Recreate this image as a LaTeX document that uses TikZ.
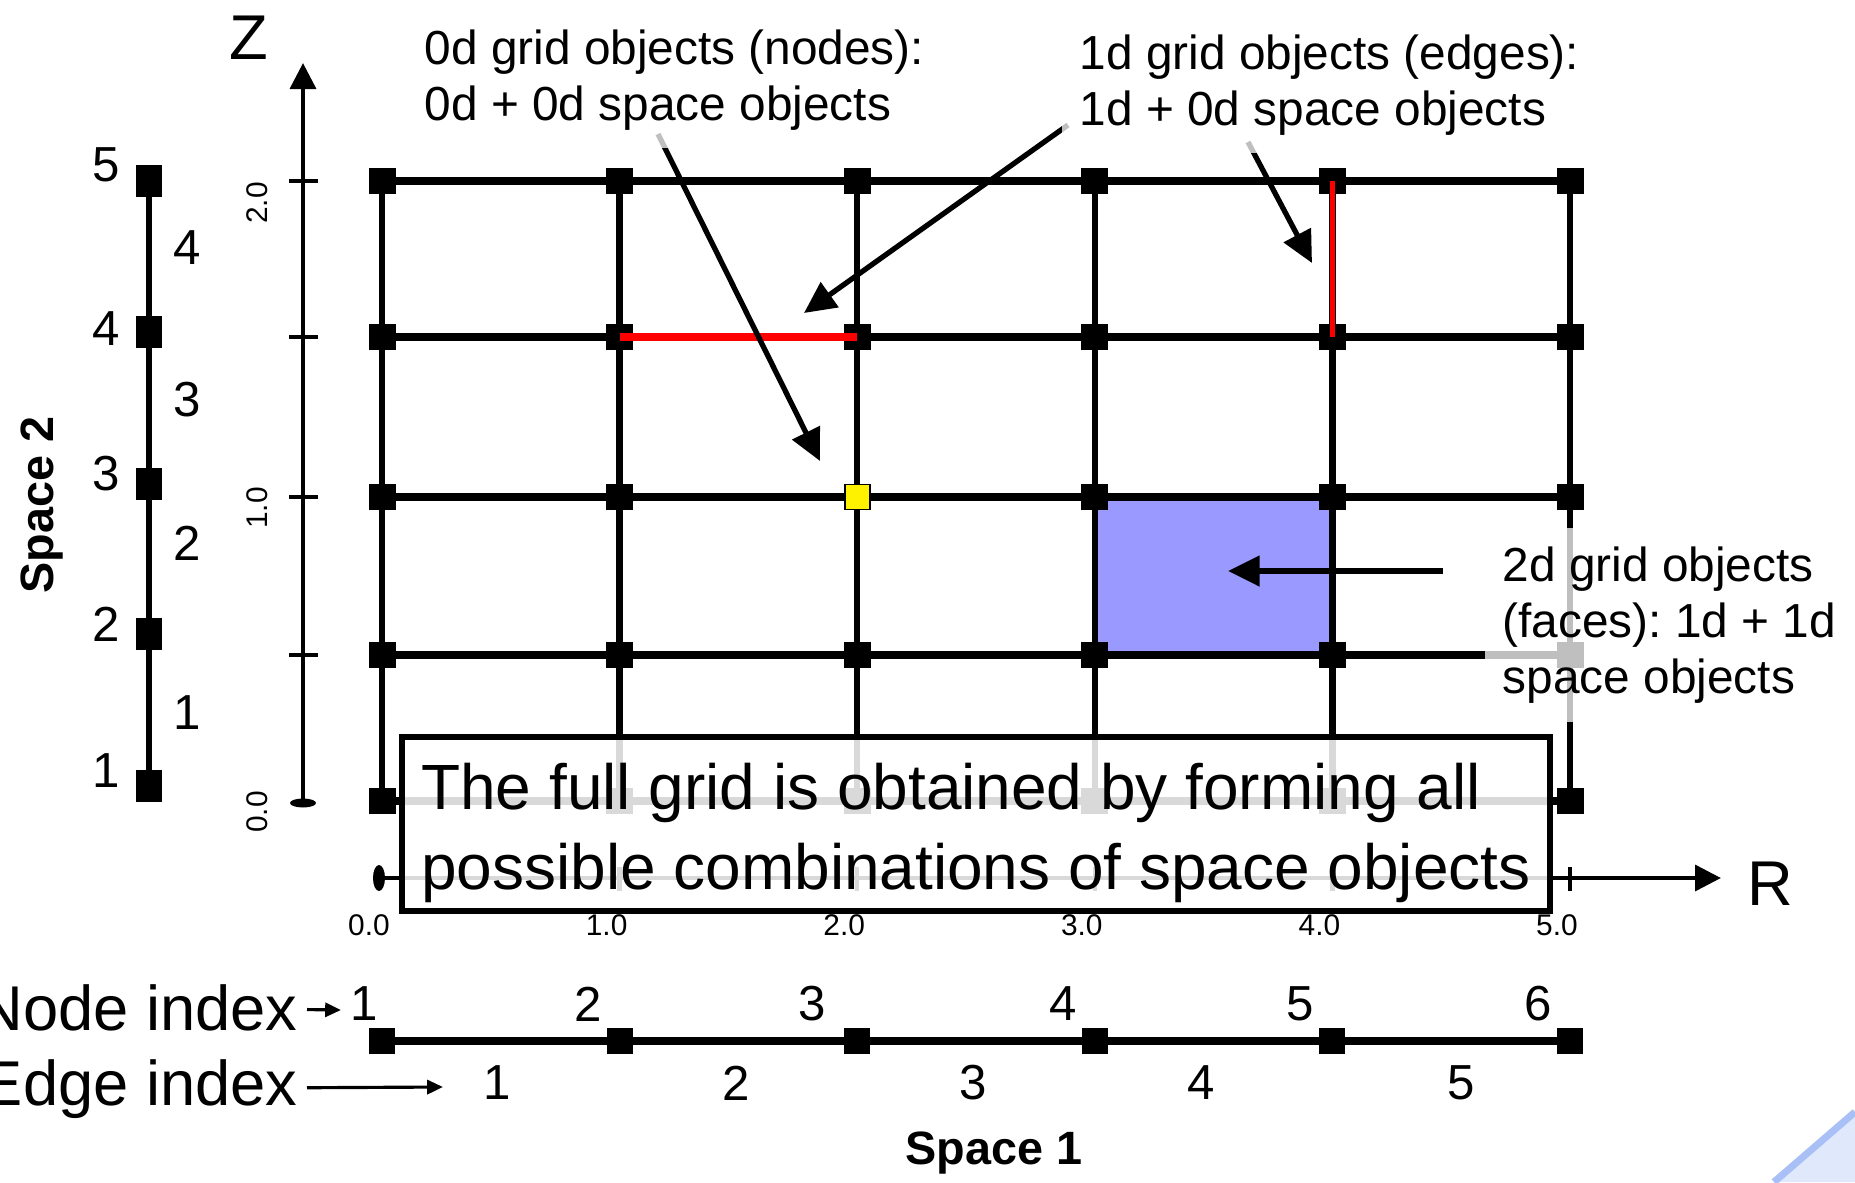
\documentclass[tikz,border=0pt]{standalone}
\usepackage{fontspec}
\setmainfont{Liberation Sans}
\usetikzlibrary{arrows.meta}

\definecolor{facecol}{RGB}{153,153,255}
\definecolor{wedgefill}{RGB}{224,232,251}
\definecolor{wedgeedge}{RGB}{168,192,245}

\begin{document}
\frenchspacing
\begin{tikzpicture}[
    sq/.style={rectangle,fill=black,inner sep=0pt,minimum width=0.27cm,minimum height=0.26cm},
    tallsq/.style={sq,minimum width=0.26cm,minimum height=0.32cm},
    hline/.style={line width=2pt},
    vline/.style={line width=1.8pt},
    axisline/.style={line width=1.3pt},
    pointer/.style={line width=1.5pt,-{Triangle[length=9pt,width=8.5pt]}},
    idxarrow/.style={line width=0.9pt,-{Triangle[length=4.5pt,width=4pt]}},
    note/.style={font=\fontsize{13.6}{16}\selectfont,align=left,inner sep=0.18cm,fill=white,fill opacity=0.75,text opacity=1},
    ticklab/.style={font=\fontsize{8.5}{10}\selectfont},
    num/.style={font=\fontsize{14}{16}\selectfont},
    biglab/.style={font=\fontsize{18}{22.2}\selectfont},
    spacelab/.style={font=\fontsize{13.3}{16}\selectfont\bfseries}
]
    \fill[white] (0,0) rectangle (18.55,11.82);
    \useasboundingbox (0,0) rectangle (18.55,11.82);

    % space 2
    \begin{scope}[shift={(1.49,0)}]
        \foreach \k/\y in {1/3.96,2/5.48,3/6.98,4/8.50,5/10.01}
            \coordinate (s2-\k) at (0,\y);
        \draw[vline] (s2-1) -- (s2-5);
        \foreach \k in {1,...,5}
            \node[tallsq] (s2n-\k) at (s2-\k) {};
        \foreach \k/\y in {1/4.11,2/5.58,3/7.08,4/8.53,5/10.17}
            \node[num] (s2lab-\k) at (-0.43,\y) {\k};
        \foreach \k/\y in {1/4.69,2/6.39,3/7.82,4/9.34}
            \node[num] (s2edge-\k) at (0.38,\y) {\k};
        \node[spacelab,rotate=90] (space2) at (-1.07,6.77) {Space 2};
    \end{scope}

    % Z axis
    \coordinate (zlow) at (3.03,3.79);
    \coordinate (ztop) at (3.03,11.19);
    \draw[axisline,-{Triangle[length=7.4pt,width=7.3pt]}] (zlow) -- (ztop);
    \fill (zlow) ellipse (0.13 and 0.045);
    \foreach \y in {5.27,6.85,8.45,10.01}
        \draw[axisline] (2.89,\y) -- (3.18,\y);
    \node[ticklab,rotate=90] (zt-0) at (2.57,3.70) {0.0};
    \node[ticklab,rotate=90] (zt-1) at (2.57,6.74) {1.0};
    \node[ticklab,rotate=90] (zt-2) at (2.57,9.79) {2.0};
    \node[biglab] (zname) at (2.49,11.44) {Z};

    % R axis
    \coordinate (rlow) at (3.79,3.04);
    \coordinate (rtop) at (17.21,3.04);
    \draw[axisline,-{Triangle[length=7.4pt,width=7.3pt]}] (rlow) -- (rtop);
    \fill (rlow) ellipse (0.06 and 0.13);
    \foreach \i in {1,...,5}
        \draw[axisline] ({3.82+2.376*\i},2.91) -- ({3.82+2.376*\i},3.15);
    \foreach \i in {0,...,5}
        \node[ticklab] (rt-\i) at ({3.69+2.376*\i},2.57) {\i.0};
    \node[biglab] (rname) at (17.70,2.98) {R};

    % grid
    \foreach \i in {0,...,5}
        \foreach \j/\y in {0/3.81,1/5.27,2/6.85,3/8.45,4/10.01}
            \coordinate (g-\i-\j) at ({3.82+2.376*\i},\y);
    \fill[facecol] (g-3-1) rectangle (g-4-2);
    \foreach \j in {0,...,4}
        \draw[hline] (g-0-\j) -- (g-5-\j);
    \foreach \i in {0,...,5}
        \draw[vline] (g-\i-0) -- (g-\i-4);
    \foreach \i in {0,...,5}
        \foreach \j in {0,...,4}
            \node[sq] (n-\i-\j) at (g-\i-\j) {};
    \node[sq,fill=yellow,draw=black,line width=0.5pt,minimum width=0.25cm,minimum height=0.25cm] (n-yel) at (g-2-2) {};
    \draw[red,line width=2pt] (n-1-3.center) -- (n-2-3.center);
    \draw[red,line width=1.3pt] (n-4-4.center) -- (n-4-3.center);

    % pointers
    \coordinate (p0-tail) at (6.58,10.48);
    \coordinate (p0-tip) at (8.20,7.21);
    \coordinate (p1-tail) at (10.68,10.57);
    \coordinate (p1-tip) at (8.04,8.69);
    \coordinate (p2-tail) at (12.48,10.40);
    \coordinate (p2-tip) at (13.12,9.19);
    \coordinate (p3-tail) at (14.43,6.11);
    \coordinate (p3-tip) at (12.28,6.11);
    \draw[pointer] (p0-tail) -- (p0-tip);
    \draw[pointer] (p1-tail) -- (p1-tip);
    \draw[pointer] (p2-tail) -- (p2-tip);
    \draw[pointer] (p3-tail) -- (p3-tip);

    \node[note,anchor=west] (nodes0d) at (4.06,11.02) {0d grid objects (nodes):\\0d + 0d space objects};
    \node[note,anchor=west] (edges1d) at (10.61,10.97) {1d grid objects (edges):\\1d + 0d space objects};
    \node[note,anchor=west] (faces2d) at (14.84,5.57) {2d grid objects\\(faces): 1d + 1d\\space objects};

    % space 1
    \foreach \i in {0,...,5}
        \coordinate (s1-\i) at ({3.82+2.376*\i},1.41);
    \draw[hline] (s1-0) -- (s1-5);
    \foreach \i in {0,...,5}
        \node[sq,minimum width=0.26cm] (s1n-\i) at (s1-\i) {};
    \foreach \k/\x in {1/3.64,2/5.88,3/8.12,4/10.63,5/13.00,6/15.38}
        \node[num] (s1lab-\k) at (\x,1.78) {\k};
    \foreach \k/\x in {1/4.97,2/7.36,3/9.73,4/12.01,5/14.61}
        \node[num] (s1edge-\k) at (\x,0.99) {\k};
    \node[biglab,anchor=base east,inner sep=2.5pt] (nodeidx) at (3.07,1.52) {Node index};
    \node[biglab,anchor=base east,inner sep=2.5pt] (edgeidx) at (3.07,0.77) {Edge index};
    \coordinate (nodeidx-end) at (3.41,1.72);
    \coordinate (edgeidx-end) at (4.43,0.95);
    \draw[idxarrow] (nodeidx) -- (nodeidx-end);
    \draw[idxarrow] (edgeidx) -- (edgeidx-end);
    \node[spacelab] (space1) at (9.94,0.29) {Space 1};

    % summary box
    \node[draw,line width=1.6pt,fill=white,fill opacity=0.85,minimum width=11.48cm,minimum height=1.74cm] (summary) at (9.76,3.58) {};
    \node[biglab,font=\fontsize{18.2}{22.6}\selectfont,align=left] (summarytext) at (9.76,3.49) {The full grid is obtained by forming all\\possible combinations of space objects};

    \fill[wedgefill] (17.74,0) -- (18.55,0.70) -- (18.55,0) -- cycle;
    \draw[wedgeedge,line width=2pt] (17.74,0) -- (18.55,0.70);
\end{tikzpicture}
\end{document}
